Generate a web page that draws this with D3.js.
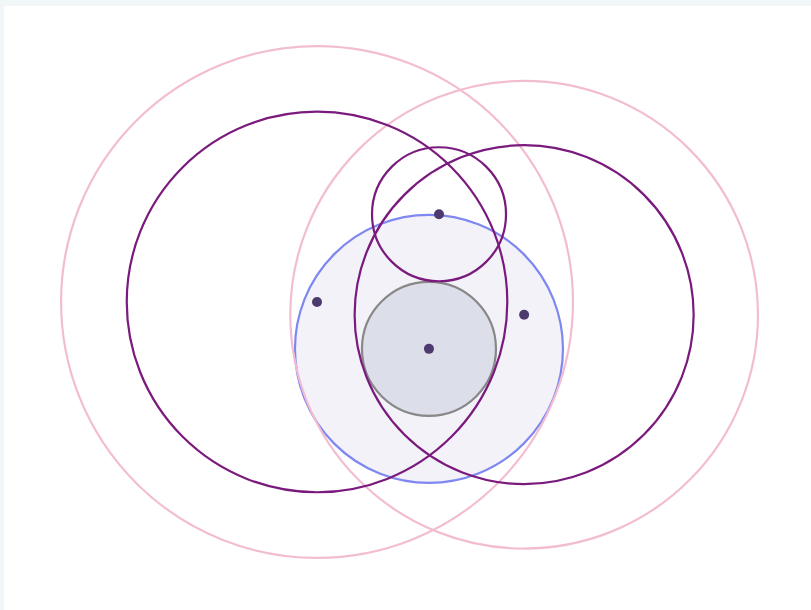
<!DOCTYPE html>
<html>
<head>
<meta charset="utf-8">
<script src="https://cdn.jsdelivr.net/npm/d3@7"></script>
<style>
  body { margin: 0; background: #f1f6f9; }
  svg { display: block; }
</style>
</head>
<body>
<div id="chart"></div>
<script>
// circle data, in chart units (grey circle radius = 1)
var names   = ["outerLeft", "outerRight", "left", "right", "top", "blue", "core"];
var cx      = [-1.67, 1.42, -1.67, 1.42, 0.15, 0, 0];
var cy      = [0.70, 0.51, 0.70, 0.51, 2.01, 0, 0];
var radius  = [3.82, 3.49, 2.84, 2.53, 1.0, 2.0, 1.0];
var kind    = ["halo", "halo", "ring", "ring", "ring", "zone", "core"];
// points marked with a dot
var dotX = [-1.67, 1.42, 0.15, 0];
var dotY = [0.70, 0.51, 2.01, 0];

var W = 811, H = 610;
var circles = names.map(function(n, i) {
  return {name: n, x: cx[i], y: cy[i], r: radius[i], kind: kind[i]};
});
var dots = dotX.map(function(d, i) { return {x: d, y: dotY[i]}; });

var x = d3.scaleLinear().domain([-6.4, 5.7]).range([0, W]);
var y = d3.scaleLinear().domain([5.21, -3.9]).range([0, H]);
var rs = d3.scaleLinear().domain([0, 1]).range([0, 67]);

var svg = d3.select("#chart").append("svg")
    .attr("width", W)
    .attr("height", H);

svg.append("rect")
    .attr("x", 4).attr("y", 6)
    .attr("width", W - 4).attr("height", H - 6)
    .style("fill", "#ffffff");

var style = {
  halo: {stroke: "#f3bdd1", width: 2.2, fill: "none"},
  ring: {stroke: "#7a1a7d", width: 2.2, fill: "none"},
  zone: {stroke: "#7f88f0", width: 2.2, fill: "#f3f2f8"},
  core: {stroke: "#888888", width: 2.2, fill: "#dcdeea"}
};

// fills first, then outlines so the purple rings cross over the blue zone
var order = ["zone", "core", "halo", "ring"];
var sorted = circles.slice().sort(function(a, b) {
  return order.indexOf(a.kind) - order.indexOf(b.kind);
});

svg.selectAll("circle.area")
    .data(sorted)
  .enter().append("circle")
    .attr("class", "area")
    .attr("cx", function(d) { return x(d.x); })
    .attr("cy", function(d) { return y(d.y); })
    .attr("r", function(d) { return rs(d.r); })
    .style("fill", function(d) { return style[d.kind].fill; })
    .style("stroke", function(d) { return style[d.kind].stroke; })
    .style("stroke-width", function(d) { return style[d.kind].width; });

svg.selectAll("circle.dot")
    .data(dots)
  .enter().append("circle")
    .attr("class", "dot")
    .attr("cx", function(d) { return x(d.x); })
    .attr("cy", function(d) { return y(d.y); })
    .attr("r", 5)
    .style("fill", "#4d3a6e");
</script>
</body>
</html>
